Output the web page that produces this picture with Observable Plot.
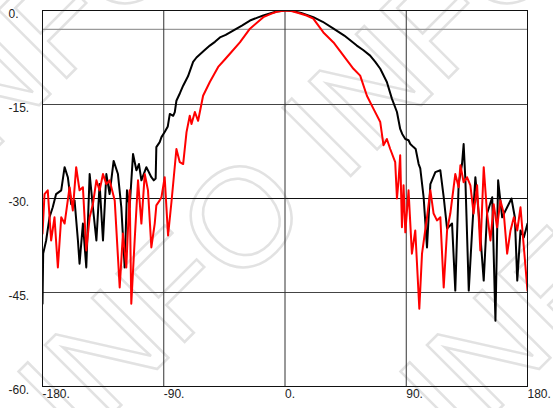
<!DOCTYPE html>
<html>
<head>
<meta charset="utf-8">
<script src="https://cdn.jsdelivr.net/npm/d3@7"></script>
<script src="https://cdn.jsdelivr.net/npm/@observablehq/plot@0.6"></script>
<style>
  html, body { margin: 0; padding: 0; background: #fff; }
  #chart { width: 553px; height: 408px; overflow: hidden; }
</style>
</head>
<body>
<div id="chart"></div>
<script>
// Angles (degrees) and levels (dB)
const blackAngle = [-180,-179.5,-177.3,-174.8,-172.4,-169.9,-166.1,-163.6,-161.2,-158.7,-156.2,-153.7,-152.5,-150,-147.5,-145,-142.6,-140,-137.6,-135.1,-132.6,-130.2,-127.2,-124,-121.5,-119,-117.3,-115.3,-112.8,-110.3,-108.4,-106.6,-102.9,-99.2,-97.4,-96,-95.5,-93,-91.7,-89.3,-87,-85.5,-83,-81.8,-80.6,-78,-75.6,-72,-68.2,-65.7,-60,-55.8,-52,-48.3,-44,-38.5,-32,-26,-20,-16.1,-10,-6.2,0,1.2,6,12,21,28,36,44,53.3,58,63.2,67,70.7,75.6,79.4,83.1,85.5,87,89.3,91.7,93,95.4,97,99.2,100.4,102.9,105.4,107.9,111.6,115.3,117.8,120.3,124,126.4,128.9,131.4,132.6,133.9,136.4,138.9,141.3,143.8,147.5,150,153.8,156.2,158.2,161.2,164.9,168.1,170.6,172.4,174.8,177.3,180];
const blackDb = [-46.8,-38.8,-36.7,-33,-31.4,-29.3,-28.7,-25,-26.6,-30.9,-30.3,-36.7,-40.4,-34,-41,-26.1,-31.4,-36.7,-27.7,-36.7,-26.1,-29.3,-24,-26.1,-31.4,-41,-28.7,-31.4,-22.9,-25.5,-24.5,-27.1,-25,-26.6,-27.1,-26.8,-21.8,-21,-20.2,-19.4,-18.5,-16.5,-16.8,-16.2,-14.4,-13.2,-12,-10.5,-8.2,-7.5,-6.4,-5.6,-5,-4.3,-3.9,-3.2,-2.4,-1.6,-1.1,-0.8,-0.4,-0.16,0,0,-0.1,-0.4,-1.07,-1.8,-2.9,-4,-5.6,-6.3,-7.2,-8.2,-9.3,-11.4,-14.1,-16.2,-18.9,-19.7,-20.5,-20.7,-21.3,-21.8,-22.1,-24.5,-25.2,-29.8,-37.8,-27.7,-25.8,-25.5,-29.8,-34.8,-34,-44.7,-27.7,-24.5,-21.3,-27.1,-44.7,-35.1,-26.6,-32.4,-43.1,-32.4,-29.8,-49.5,-27.1,-33,-31.4,-30,-33,-43.1,-35.1,-36.2,-34];

const redAngle = [-180,-178.5,-176.1,-173.6,-171.1,-168.6,-166.1,-163.6,-159.9,-157.5,-155,-152.5,-150,-147.5,-145,-142.6,-140,-137.6,-135.1,-132.6,-130.2,-126.4,-122.7,-120.3,-117.8,-115.3,-114.1,-111.6,-109.1,-106.6,-104.1,-101.7,-99.2,-96.7,-95.5,-93,-91.7,-89.3,-86.8,-84.3,-80.6,-78.1,-75.6,-73.1,-70.7,-69.4,-66.9,-64.5,-60.8,-55.8,-49.6,-45,-40.9,-33.5,-26,-20,-16.1,-10,-6.2,0,4,10,16,21,28.5,36,43.4,50.8,55.8,60.8,65.7,70.7,73.1,75.6,78.1,81.8,83.1,84.3,85.5,86.8,88,89.3,91.7,94.2,96.7,99.7,101.7,105.4,107.9,110.3,112.8,115.3,117.8,120.3,122.7,126.4,128.9,130.2,132.6,135.1,137.6,140,142.6,145,147.5,150,152.5,154.9,157.4,159.9,162.4,164.9,167.4,169.9,172.4,174.8,177.3,180];
const redDb = [-35.6,-29.3,-28.7,-36.7,-33,-41,-33,-34,-28.2,-31.9,-25,-28.7,-28.2,-38.3,-33,-30.9,-27.1,-28.7,-26.1,-27.7,-27.1,-30.3,-44.2,-35.6,-41,-28.7,-46.8,-36.7,-27.1,-34,-26.1,-28.7,-37.8,-34,-31.1,-30.3,-29.8,-26.6,-35.9,-30.6,-22.1,-24.2,-24.5,-19.4,-16.8,-18.1,-16.2,-17.6,-13.6,-11.4,-9,-7.9,-6.9,-5.1,-2.9,-1.8,-1.07,-0.5,-0.2,0,-0.05,-0.4,-0.8,-1.3,-3.5,-5.1,-7.2,-9.3,-10.4,-13.6,-15.7,-17.8,-21.5,-20.5,-22.1,-24.2,-30,-27.1,-23.1,-34.6,-27.9,-35.4,-28.7,-38.8,-35.1,-47.6,-38.8,-33,-28.7,-32.4,-33.5,-33,-44.2,-35.1,-32.4,-26.1,-28.2,-24.7,-27.4,-26.6,-27.9,-32.4,-27.9,-38.3,-25,-32.4,-36.7,-30.9,-34.6,-30.3,-32.4,-38.8,-35.1,-33,-35.1,-31.4,-37.8,-44.7];

const xTicks = [-180, -90, 0, 90, 180];
const yTicks = [0, -15, -30, -45, -60];
const gridX = [-90, 0, 90];
const gridYDark = [-15, -45];
const gridYBlack = [-30];
const gridYLight = [-3];

const black = blackAngle.map((a, i) => ({angle: a, db: blackDb[i]}));
const red = redAngle.map((a, i) => ({angle: a, db: redDb[i]}));

const fmt = d => d + ".";

const chart = Plot.plot({
  width: 553,
  height: 408,
  marginLeft: 42,
  marginRight: 26,
  marginTop: 10,
  marginBottom: 22,
  style: {fontFamily: "Liberation Sans, Arial, sans-serif", fontSize: "12px", background: "transparent", overflow: "visible"},
  x: {domain: [-180, 180]},
  y: {domain: [-60, 0]},
  marks: [
    Plot.ruleY(gridYLight, {stroke: "#9a9a9a", strokeWidth: 1.2}),
    Plot.ruleY(gridYDark, {stroke: "#444", strokeWidth: 1.2}),
    Plot.ruleY(gridYBlack, {stroke: "#111", strokeWidth: 1.2}),
    Plot.ruleX(gridX, {stroke: "#333", strokeWidth: 1}),
    Plot.line(black, {x: "angle", y: "db", stroke: "#000", strokeWidth: 2, clip: true}),
    Plot.line(red, {x: "angle", y: "db", stroke: "#ff0000", strokeWidth: 2, clip: true}),
    Plot.frame({stroke: "#111", strokeWidth: 1}),
    Plot.axisX({ticks: xTicks, tickFormat: fmt, tickSize: 0, tickPadding: 3, textAnchor: "start", fill: "#222", label: null}),
    Plot.axisY({ticks: yTicks, tickFormat: fmt, tickSize: 0, tickPadding: 0, textAnchor: "start", dx: -34, dy: 4, fill: "#222", label: null})
  ]
});

// light outlined watermark behind the chart
const svg = d3.select(chart);
const wm = svg.insert("g", ":first-child").attr("class", "watermark");
[-1, 0, 1].forEach(k => {
  wm.append("text")
    .attr("transform", `translate(${160 + 382 * k},295) rotate(-45)`)
    .attr("text-anchor", "middle")
    .attr("dy", "0.36em")
    .attr("font-family", "Liberation Sans, Arial, sans-serif")
    .attr("font-size", 140)
    .attr("fill", "none")
    .attr("stroke", "#e2e2e2")
    .attr("stroke-width", 2.5)
    .text("INFO INFO INFO");
});

document.getElementById("chart").appendChild(chart);
</script>
</body>
</html>
